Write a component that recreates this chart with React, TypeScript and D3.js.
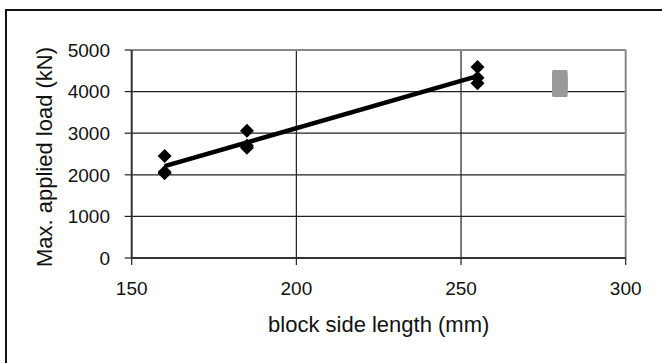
import React from "react";
import * as d3 from "d3";

const xTicks = [150, 200, 250, 300];
const yTicks = [0, 1000, 2000, 3000, 4000, 5000];

const blockX = [160, 160, 160, 185, 185, 185, 255, 255, 255];
const loadY = [2450, 2040, 2070, 3060, 2700, 2650, 4590, 4330, 4200];

const trendX = [160, 255];
const trendY = [2210, 4370];

const grayX = [280, 280, 280];
const grayY = [4060, 4200, 4330];

const W = 662;
const H = 363;
const L = 131.7, R = 625.7, T = 50, B = 258;

export default function App() {
  const x = d3.scaleLinear().domain([150, 300]).range([L, R]);
  const y = d3.scaleLinear().domain([0, 5000]).range([B, T]);
  const font = "'Liberation Sans', Arial, sans-serif";
  const line = d3
    .line<number>()
    .x((d, i) => x(trendX[i]))
    .y((d) => y(d));
  const diamond = (cx: number, cy: number, r: number) =>
    `M${cx},${cy - r}L${cx + r},${cy}L${cx},${cy + r}L${cx - r},${cy}Z`;

  return (
    <svg
      width={W}
      height={H}
      style={{ position: "absolute", left: 0, top: 0, background: "#fff" }}
      fontFamily={font}
    >
      <rect x={6} y={10} width={700} height={400} fill="#fff" stroke="#111" strokeWidth={2} />
      {/* grid */}
      {yTicks.slice(1, -1).map((t) => (
        <line key={"gy" + t} x1={L} x2={R} y1={y(t)} y2={y(t)} stroke="#222" strokeWidth={1.2} />
      ))}
      {xTicks.slice(1, -1).map((t) => (
        <line key={"gx" + t} x1={x(t)} x2={x(t)} y1={T} y2={B} stroke="#222" strokeWidth={1.2} />
      ))}
      {/* plot frame top/right */}
      <line x1={L} x2={R} y1={T} y2={T} stroke="#888" strokeWidth={2} />
      <line x1={R} x2={R} y1={T} y2={B} stroke="#888" strokeWidth={2} />
      {/* axes */}
      <line x1={L} x2={L} y1={T} y2={B} stroke="#333" strokeWidth={2} />
      <line x1={L} x2={R} y1={B} y2={B} stroke="#333" strokeWidth={2} />
      {yTicks.map((t) => (
        <g key={"yt" + t}>
          <line x1={L - 7} x2={L} y1={y(t)} y2={y(t)} stroke="#222" strokeWidth={1.2} />
          <text x={110} y={y(t)} dy="0.36em" textAnchor="end" fontSize={19} fill="#111">
            {t}
          </text>
        </g>
      ))}
      {xTicks.map((t) => (
        <g key={"xt" + t}>
          <line x1={x(t)} x2={x(t)} y1={B} y2={B + 7} stroke="#222" strokeWidth={1.2} />
          <text x={x(t)} y={295} textAnchor="middle" fontSize={19} fill="#111">
            {t}
          </text>
        </g>
      ))}
      <text x={(L + R) / 2} y={332} textAnchor="middle" fontSize={22} fill="#111">
        block side length (mm)
      </text>
      <text
        transform={`translate(51.5,157) rotate(-90)`}
        textAnchor="middle"
        fontSize={22}
        fill="#111"
      >
        Max. applied load (kN)
      </text>
      {/* gray markers */}
      {grayX.map((gx, i) => (
        <rect
          key={"g" + i}
          x={x(gx) - 7.8}
          y={y(grayY[i]) - 7.8}
          width={15.6}
          height={15.6}
          rx={1.5}
          fill="#999"
        />
      ))}
      {/* trend line */}
      <path d={line(trendY) || ""} fill="none" stroke="#000" strokeWidth={4.5} />
      {/* diamonds */}
      {blockX.map((bx, i) => (
        <path key={"d" + i} d={diamond(x(bx), y(loadY[i]), 7)} fill="#000" />
      ))}
    </svg>
  );
}
